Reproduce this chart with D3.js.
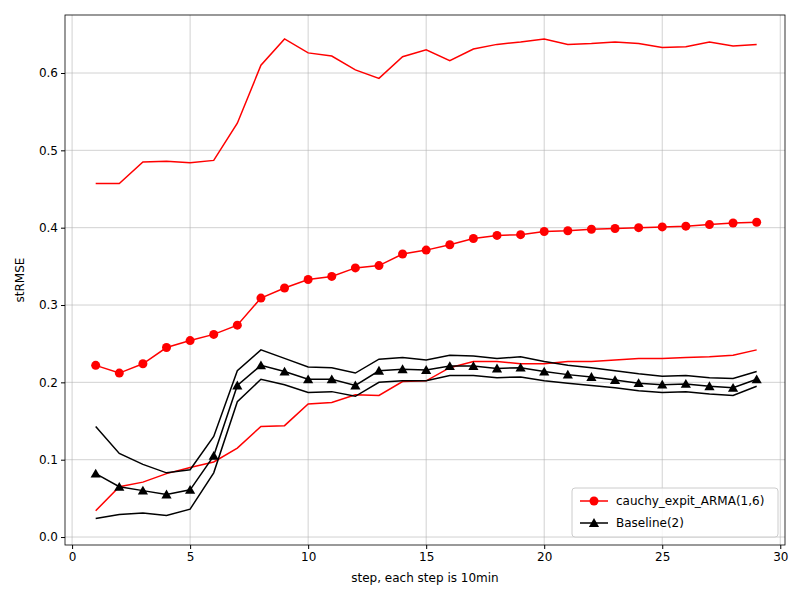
<!DOCTYPE html>
<html><head><meta charset="utf-8">
<script src="https://cdn.jsdelivr.net/npm/d3@7"></script>
<style>body{margin:0;background:#fff}text{font-family:"DejaVu Sans",sans-serif}</style>
</head><body><svg width="800" height="600"></svg>
<script>
const steps = d3.range(1, 30);
const redUpper = [0.457,0.457,0.485,0.486,0.484,0.487,0.535,0.61,0.644,0.626,0.622,0.604,0.593,0.621,0.63,0.616,0.631,0.637,0.64,0.644,0.637,0.638,0.64,0.638,0.633,0.634,0.64,0.635,0.637];
const redMid = [0.222,0.212,0.224,0.245,0.254,0.262,0.274,0.309,0.322,0.333,0.337,0.348,0.351,0.366,0.371,0.378,0.386,0.390,0.391,0.395,0.396,0.398,0.399,0.400,0.401,0.402,0.404,0.406,0.407];
const redLower = [0.034,0.065,0.071,0.082,0.090,0.097,0.115,0.143,0.144,0.172,0.174,0.184,0.183,0.201,0.202,0.219,0.227,0.227,0.224,0.224,0.227,0.227,0.229,0.231,0.231,0.232,0.233,0.235,0.242];
const blackUpper = [0.143,0.108,0.094,0.083,0.087,0.130,0.215,0.242,0.231,0.220,0.219,0.212,0.230,0.232,0.229,0.235,0.234,0.231,0.233,0.227,0.222,0.219,0.215,0.211,0.208,0.209,0.206,0.205,0.214];
const blackMid = [0.082,0.065,0.060,0.055,0.061,0.105,0.196,0.222,0.214,0.204,0.204,0.196,0.215,0.217,0.216,0.221,0.221,0.218,0.219,0.214,0.210,0.207,0.203,0.199,0.197,0.198,0.195,0.193,0.204];
const blackLower = [0.024,0.029,0.031,0.028,0.036,0.083,0.175,0.204,0.197,0.187,0.188,0.182,0.200,0.202,0.202,0.209,0.209,0.206,0.207,0.202,0.199,0.196,0.193,0.189,0.187,0.188,0.185,0.183,0.195];
const xTicks = [0,5,10,15,20,25,30];
const yTicks = [0,0.1,0.2,0.3,0.4,0.5,0.6];

const L=65, R=785, T=15, B=545;
const svg = d3.select('svg');
const x = d3.scaleLinear().domain([-0.3, 30.2]).range([L, R]);
const y = d3.scaleLinear().domain([-0.0103, 0.675]).range([B, T]);

// grid
svg.append('g').selectAll('line').data(xTicks).join('line')
  .attr('x1', d=>x(d)).attr('x2', d=>x(d)).attr('y1', T).attr('y2', B)
  .attr('stroke', '#b0b0b0').attr('stroke-width', 0.8).attr('opacity', 0.7);
svg.append('g').selectAll('line').data(yTicks).join('line')
  .attr('y1', d=>y(d)).attr('y2', d=>y(d)).attr('x1', L).attr('x2', R)
  .attr('stroke', '#b0b0b0').attr('stroke-width', 0.8).attr('opacity', 0.7);

const xa = svg.append('g').attr('transform', `translate(0,${B})`)
  .call(d3.axisBottom(x).tickValues(xTicks).tickSize(4).tickFormat(d3.format('d')));
const ya = svg.append('g').attr('transform', `translate(${L},0)`)
  .call(d3.axisLeft(y).tickValues(yTicks).tickSize(4).tickFormat(d3.format('.1f')));
[xa, ya].forEach(a => { a.select('.domain').remove(); a.selectAll('text').attr('font-size', 12).attr('fill', '#000'); });

svg.append('rect').attr('x', L).attr('y', T).attr('width', R-L).attr('height', B-T)
  .attr('fill', 'none').attr('stroke', '#000').attr('stroke-width', 0.8);

const line = d3.line().x((d,i)=>x(steps[i])).y(d=>y(d));
const series = [
  [redUpper,'red'],[redMid,'red'],[redLower,'red'],
  [blackUpper,'black'],[blackMid,'black'],[blackLower,'black']
];
series.forEach(([s,c]) => svg.append('path').attr('d', line(s))
  .attr('fill','none').attr('stroke', c).attr('stroke-width', 1.5));

svg.append('g').selectAll('circle').data(redMid).join('circle')
  .attr('cx', (d,i)=>x(steps[i])).attr('cy', d=>y(d)).attr('r', 4.5).attr('fill','red');
const tri = d3.symbol().type(d3.symbolTriangle).size(45);
svg.append('g').selectAll('path').data(blackMid).join('path')
  .attr('d', tri).attr('transform', (d,i)=>`translate(${x(steps[i])},${y(d)+1})`).attr('fill','black');

svg.append('text').attr('x', (L+R)/2).attr('y', 582).attr('text-anchor','middle')
  .attr('font-size', 12).text('step, each step is 10min');
svg.append('text').attr('transform', `translate(24,${(T+B)/2}) rotate(-90)`).attr('text-anchor','middle')
  .attr('font-size', 12).text('stRMSE');

// legend
const lg = svg.append('g').attr('transform', 'translate(572,488)');
lg.append('rect').attr('width', 206).attr('height', 49).attr('rx', 3)
  .attr('fill', '#fff').attr('fill-opacity', 0.8).attr('stroke', '#ccc');
const items = [['cauchy_expit_ARMA(1,6)','red','c'],['Baseline(2)','black','t']];
items.forEach(([t,c,m],i) => {
  const yy = 13 + i*22;
  lg.append('line').attr('x1', 8).attr('x2', 36).attr('y1', yy).attr('y2', yy)
    .attr('stroke', c).attr('stroke-width', 1.5);
  if (m==='c') lg.append('circle').attr('cx', 22).attr('cy', yy).attr('r', 4.5).attr('fill', c);
  else lg.append('path').attr('d', tri).attr('transform', `translate(22,${yy+1})`).attr('fill', c);
  lg.append('text').attr('x', 44).attr('y', yy+4).attr('font-size', 12).text(t);
});
</script></body></html>
